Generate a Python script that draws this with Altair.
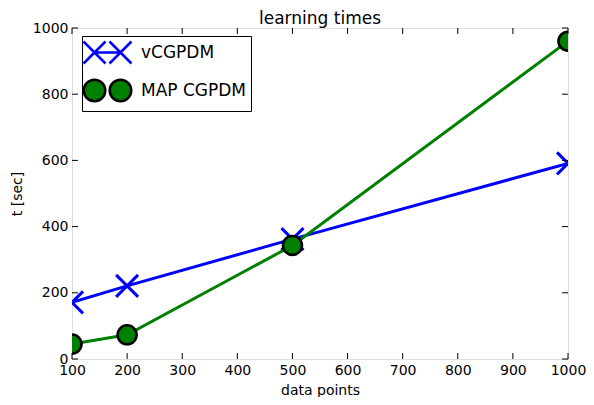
import altair as alt
import pandas as pd

# ---- data ----
data_points = [100, 200, 500, 1000]
vcgpdm_times = [171, 221, 362, 591]
map_cgpdm_times = [45, 73, 343, 960]
series_names = ["vCGPDM", "MAP CGPDM"]
x_ticks = [100, 200, 300, 400, 500, 600, 700, 800, 900, 1000]
y_ticks = [0, 200, 400, 600, 800, 1000]

df = pd.DataFrame({
    "x": data_points * 2,
    "t": vcgpdm_times + map_cgpdm_times,
    "series": [series_names[0]] * len(data_points) + [series_names[1]] * len(data_points),
})
xt = pd.DataFrame({"v": x_ticks})
yt = pd.DataFrame({"v": y_ticks})

W, H = 496, 331
FONT = "DejaVu Sans"
BLUE = "#0000ff"
GREEN = "#008000"
X_PATH = "M-1,-1L1,1M-1,1L1,-1"
X2_PATH = ("M-2.18,-1L-0.18,1M-2.18,1L-0.18,-1"
           "M0.18,-1L2.18,1M0.18,1L2.18,-1M-1.18,0L1.18,0")
O2_PATH = ("M-0.2,0A0.98,0.98 0 1,0 -2.16,0A0.98,0.98 0 1,0 -0.2,0Z"
           "M2.16,0A0.98,0.98 0 1,0 0.2,0A0.98,0.98 0 1,0 2.16,0Z")

xs = alt.Scale(domain=[100, 1000], nice=False, zero=False)
ys = alt.Scale(domain=[0, 1000], nice=False, zero=False)

xax = alt.Axis(values=x_ticks, format="d", grid=False, ticks=False, domain=False,
               labelFlush=False, labelOverlap=False,
               labelFontSize=14, labelPadding=4, labelFont=FONT, labelColor="black",
               title="data points", titleFontSize=14, titleFont=FONT,
               titleFontWeight="normal", titleColor="black",
               titleY=35, titleBaseline="alphabetic")
yax = alt.Axis(values=y_ticks, format="d", grid=False, ticks=False, domain=False,
               labelFlush=False, labelOverlap=False,
               labelFontSize=14, labelPadding=4, labelFont=FONT, labelColor="black",
               title="t [sec]", titleFontSize=14, titleFont=FONT,
               titleFontWeight="normal", titleColor="black",
               titleX=-51, titleY=H / 2, titleBaseline="alphabetic", titleAngle=-90)

X = alt.X("x:Q", scale=xs, axis=xax)
Y = alt.Y("t:Q", scale=ys, axis=yax)

base = alt.Chart(df)
blue = base.transform_filter(alt.datum.series == series_names[0])
green = base.transform_filter(alt.datum.series == series_names[1])

blue_line = blue.mark_line(color=BLUE, strokeWidth=3, clip=True).encode(x=X, y=Y)
blue_pts = blue.mark_point(shape=X_PATH, size=484, filled=False, color=BLUE,
                           strokeWidth=3, opacity=1, clip=True).encode(x=X, y=Y)
green_line = green.mark_line(color=GREEN, strokeWidth=3, clip=True).encode(x=X, y=Y)
green_pts = green.mark_point(shape="circle", size=363, filled=True, fill=GREEN,
                             stroke="black", strokeWidth=2.5, opacity=1,
                             clip=True).encode(x=X, y=Y)

legend = alt.Legend(title=None, orient="none", legendX=10, legendY=8,
                    strokeColor="black", fillColor="white", padding=4,
                    cornerRadius=0, symbolSize=484, symbolStrokeWidth=2.5,
                    symbolOffset=9, labelOffset=21, rowPadding=5,
                    labelFont=FONT, labelFontSize=17, labelColor="black",
                    symbolOpacity=1)
legend_layer = base.transform_filter("false").mark_point(filled=True).encode(
    fill=alt.Fill("series:N", scale=alt.Scale(domain=series_names,
                                               range=["transparent", GREEN]),
                  legend=legend),
    stroke=alt.Stroke("series:N", scale=alt.Scale(domain=series_names,
                                                   range=[BLUE, "black"]),
                      legend=legend),
    shape=alt.Shape("series:N", scale=alt.Scale(domain=series_names,
                                                 range=[X2_PATH, O2_PATH]),
                    legend=legend),
)

tick_len = 6
xb = alt.X("v:Q", scale=xs)
yb = alt.Y("v:Q", scale=ys)
ticks_bottom = alt.Chart(xt).mark_rule(color="black", strokeWidth=1).encode(
    x=xb, y=alt.value(H), y2=alt.value(H - tick_len))
ticks_top = alt.Chart(xt).mark_rule(color="black", strokeWidth=1).encode(
    x=xb, y=alt.value(0), y2=alt.value(tick_len))
ticks_left = alt.Chart(yt).mark_rule(color="black", strokeWidth=1).encode(
    y=yb, x=alt.value(0), x2=alt.value(tick_len))
ticks_right = alt.Chart(yt).mark_rule(color="black", strokeWidth=1).encode(
    y=yb, x=alt.value(W), x2=alt.value(W - tick_len))

chart = alt.layer(
    blue_line, blue_pts, green_line, green_pts, legend_layer,
    ticks_bottom, ticks_top, ticks_left, ticks_right,
).properties(
    width=W, height=H,
    title=alt.TitleParams("learning times", font=FONT, fontSize=17,
                          fontWeight="normal", color="black", anchor="middle",
                          frame="group", baseline="alphabetic", offset=8, dy=28),
    autosize=alt.AutoSizeParams(type="none"),
    padding={"left": 64, "top": 20, "right": 18, "bottom": 38},
).configure_view(
    stroke="black", strokeWidth=1
).configure(background="white")

chart.save("out.html", embed_options={"renderer": "svg", "actions": False})
